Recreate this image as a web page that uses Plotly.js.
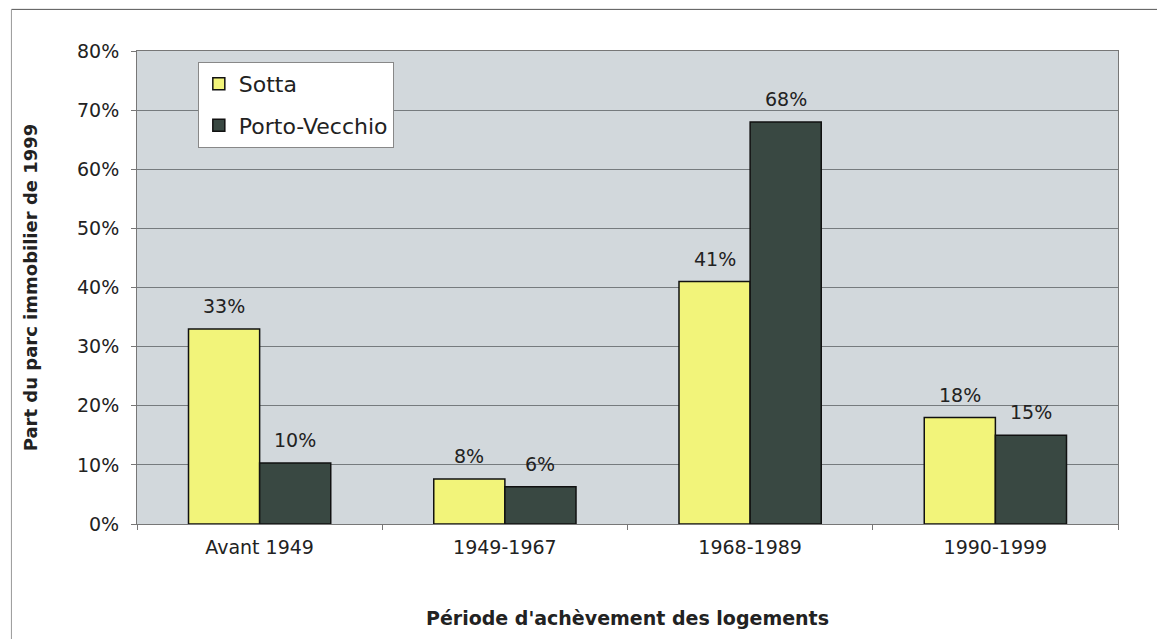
<!DOCTYPE html>
<html>
<head>
<meta charset="utf-8">
<script src="https://cdn.plot.ly/plotly-3.0.1.min.js"></script>
<style>html,body{margin:0;padding:0;background:#fff;}#chart{width:1157px;height:639px;}</style>
</head>
<body>
<div id="chart"></div>
<script>
const categories = ["Avant 1949", "1949-1967", "1968-1989", "1990-1999"];
const sottaValues = [0.33, 0.076, 0.41, 0.18];
const portoVecchioValues = [0.103, 0.063, 0.68, 0.15];
const yTickValues = [0, 0.1, 0.2, 0.3, 0.4, 0.5, 0.6, 0.7, 0.8];
const yTickLabels = ["0%", "10%", "20%", "30%", "40%", "50%", "60%", "70%", "80%"];

const font = "DejaVu Sans, Verdana, sans-serif";
const textColor = "#222";
const bargap = 0.42;
const halfOffset = (1 - bargap) / 4; // centre of each bar in a group of two

const traces = [
  {
    type: "bar", name: "Sotta", x: categories, y: sottaValues,
    legendgroup: "a",
    marker: {color: "#f2f47a", line: {color: "#111", width: 1.5}}
  },
  {
    type: "bar", name: "Porto-Vecchio", x: categories, y: portoVecchioValues,
    legendgroup: "b",
    marker: {color: "#394842", line: {color: "#111", width: 1.5}}
  }
];

function pct(v) { return Math.round(v * 100) + "%"; }
const annotations = [];
categories.forEach((c, i) => {
  annotations.push({x: i - halfOffset, y: sottaValues[i], xref: "x", yref: "y",
    text: pct(sottaValues[i]), showarrow: false, yanchor: "bottom", yshift: 10,
    font: {family: font, size: 19, color: textColor}});
  annotations.push({x: i + halfOffset, y: portoVecchioValues[i], xref: "x", yref: "y",
    text: pct(portoVecchioValues[i]), showarrow: false, yanchor: "bottom", yshift: 10,
    font: {family: font, size: 19, color: textColor}});
});

const layout = {
  width: 1157, height: 639,
  margin: {l: 137, r: 39, t: 51, b: 115},
  paper_bgcolor: "#ffffff",
  plot_bgcolor: "#d2d8dc",
  font: {family: font, size: 19, color: textColor},
  barmode: "group", bargap: bargap, bargroupgap: 0,
  showlegend: true,
  legend: {
    x: 0.062, y: 0.977, xanchor: "left", yanchor: "top",
    bgcolor: "#ffffff", bordercolor: "#888", borderwidth: 1,
    font: {family: font, size: 22, color: textColor},
    traceorder: "grouped", tracegroupgap: 10,
    itemwidth: 30
  },
  xaxis: {
    type: "category",
    showline: true, linecolor: "#777", linewidth: 1, mirror: true,
    ticks: "outside", tickson: "boundaries", ticklen: 5, tickcolor: "#777",
    ticklabelstandoff: 6,
    tickfont: {family: font, size: 19, color: textColor},
    title: {text: "<b>Période d'achèvement des logements</b>", standoff: 54,
            font: {family: font, size: 19, color: textColor}}
  },
  yaxis: {
    range: [0, 0.8], tickvals: yTickValues, ticktext: yTickLabels,
    showgrid: true, gridcolor: "#767b7e", gridwidth: 1,
    showline: true, linecolor: "#777", linewidth: 1, mirror: true,
    zeroline: false,
    ticks: "outside", ticklen: 5, tickcolor: "#777",
    ticklabelstandoff: 8,
    tickfont: {family: font, size: 19, color: textColor},
    title: {text: "<b>Part du parc immobilier de 1999</b>", standoff: 34,
            font: {family: font, size: 18, color: textColor}}
  },
  annotations: annotations,
  shapes: [
    {type: "line", xref: "paper", yref: "paper", x0: -0.128, x1: 1.045, y0: 1.088, y1: 1.088,
     line: {color: "#555", width: 1}},
    {type: "line", xref: "paper", yref: "paper", x0: -0.128, x1: -0.128, y0: 1.088, y1: -0.245,
     line: {color: "#999", width: 1}}
  ]
};

Plotly.newPlot("chart", traces, layout, {displayModeBar: false, staticPlot: true});
</script>
</body>
</html>
